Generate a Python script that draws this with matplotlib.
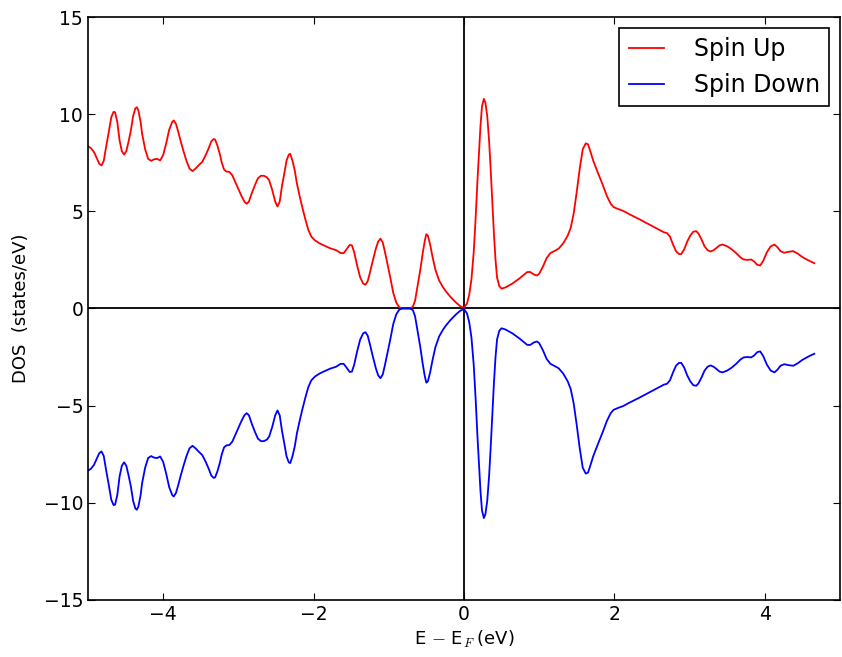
import matplotlib
matplotlib.use("Agg")
import matplotlib.pyplot as plt

energy = [-5.00, -4.96, -4.92, -4.88, -4.85, -4.82, -4.79, -4.76, -4.72, -4.69,
          -4.66, -4.64, -4.61, -4.58, -4.55, -4.52, -4.49, -4.46, -4.43, -4.40,
          -4.37, -4.35, -4.33, -4.30, -4.28, -4.24, -4.20, -4.16, -4.12, -4.08,
          -4.04, -4.00, -3.96, -3.92, -3.88, -3.86, -3.83, -3.80, -3.77, -3.73,
          -3.69, -3.65, -3.61, -3.57, -3.52, -3.48, -3.44, -3.40, -3.36, -3.33,
          -3.31, -3.28, -3.25, -3.22, -3.19, -3.16, -3.12, -3.08, -3.04, -3.00,
          -2.96, -2.92, -2.89, -2.86, -2.82, -2.78, -2.74, -2.70, -2.66, -2.62,
          -2.59, -2.55, -2.51, -2.48, -2.45, -2.42, -2.39, -2.36, -2.33, -2.31,
          -2.28, -2.25, -2.22, -2.18, -2.15, -2.11, -2.07, -2.03, -1.98, -1.92,
          -1.86, -1.78, -1.70, -1.64, -1.60, -1.56, -1.52, -1.49, -1.46, -1.42,
          -1.38, -1.34, -1.31, -1.28, -1.25, -1.21, -1.17, -1.14, -1.11, -1.08,
          -1.05, -1.02, -0.98, -0.94, -0.90, -0.86, -0.82, -0.77, -0.72, -0.68,
          -0.65, -0.62, -0.58, -0.55, -0.52, -0.50, -0.48, -0.45, -0.42, -0.38,
          -0.33, -0.28, -0.24, -0.18, -0.11, -0.05, 0.00, 0.04, 0.07, 0.10,
          0.13, 0.155, 0.18, 0.20, 0.22, 0.24, 0.265, 0.285, 0.31, 0.335,
          0.355, 0.38, 0.40, 0.42, 0.44, 0.47, 0.50, 0.55, 0.64, 0.74,
          0.84, 0.88, 0.93, 0.97, 1.00, 1.05, 1.10, 1.15, 1.20, 1.26,
          1.32, 1.38, 1.42, 1.46, 1.50, 1.54, 1.58, 1.62, 1.65, 1.68,
          1.72, 1.78, 1.84, 1.90, 1.95, 1.99, 2.05, 2.12, 2.20, 2.32,
          2.45, 2.57, 2.66, 2.70, 2.74, 2.78, 2.82, 2.86, 2.89, 2.93,
          2.97, 3.01, 3.05, 3.09, 3.12, 3.16, 3.20, 3.24, 3.28, 3.32,
          3.36, 3.40, 3.44, 3.50, 3.56, 3.62, 3.68, 3.72, 3.77, 3.82,
          3.86, 3.90, 3.94, 3.98, 4.03, 4.08, 4.13, 4.17, 4.21, 4.26,
          4.32, 4.38, 4.44, 4.50, 4.56, 4.61, 4.66]

dos_up = [8.35, 8.25, 8.05, 7.70, 7.45, 7.36, 7.60, 8.30, 9.16, 9.85,
          10.12, 10.10, 9.60, 8.65, 8.10, 7.92, 8.10, 8.60, 9.16, 9.90,
          10.30, 10.36, 10.20, 9.60, 8.99, 8.20, 7.70, 7.60, 7.68, 7.70,
          7.62, 7.90, 8.50, 9.20, 9.60, 9.68, 9.50, 9.10, 8.65, 8.10,
          7.60, 7.20, 7.07, 7.20, 7.40, 7.55, 7.85, 8.20, 8.60, 8.72,
          8.70, 8.40, 8.00, 7.50, 7.15, 7.05, 7.03, 6.85, 6.50, 6.15,
          5.80, 5.50, 5.39, 5.50, 5.95, 6.35, 6.70, 6.83, 6.83, 6.75,
          6.59, 6.10, 5.50, 5.25, 5.50, 6.30, 6.93, 7.60, 7.92, 7.96,
          7.60, 7.10, 6.40, 5.70, 5.21, 4.60, 4.05, 3.70, 3.50, 3.35,
          3.24, 3.10, 3.00, 2.85, 2.85, 3.05, 3.27, 3.25, 2.90, 2.20,
          1.60, 1.28, 1.22, 1.40, 1.85, 2.50, 3.10, 3.45, 3.59, 3.40,
          2.90, 2.35, 1.60, 0.80, 0.30, 0.06, 0.00, 0.00, 0.00, 0.08,
          0.40, 1.10, 2.00, 2.81, 3.50, 3.82, 3.75, 3.30, 2.70, 2.00,
          1.44, 1.10, 0.88, 0.60, 0.32, 0.12, 0.03, 0.25, 0.70, 1.50,
          2.90, 4.62, 6.60, 8.05, 9.40, 10.40, 10.79, 10.60, 9.90, 8.60,
          7.19, 5.30, 3.76, 2.50, 1.60, 1.15, 1.02, 1.08, 1.27, 1.55,
          1.87, 1.88, 1.75, 1.70, 1.78, 2.15, 2.60, 2.85, 2.95, 3.08,
          3.35, 3.75, 4.15, 4.90, 6.00, 7.20, 8.20, 8.50, 8.45, 8.10,
          7.60, 7.00, 6.42, 5.80, 5.40, 5.22, 5.12, 5.02, 4.85, 4.62,
          4.35, 4.10, 3.92, 3.88, 3.70, 3.30, 2.95, 2.80, 2.80, 3.05,
          3.45, 3.75, 3.95, 3.98, 3.85, 3.55, 3.20, 3.00, 2.93, 3.00,
          3.12, 3.25, 3.29, 3.20, 3.05, 2.85, 2.62, 2.52, 2.50, 2.52,
          2.42, 2.25, 2.21, 2.45, 2.90, 3.20, 3.29, 3.15, 2.95, 2.87,
          2.92, 2.95, 2.82, 2.65, 2.52, 2.42, 2.33]

dos_down = [-8.35, -8.25, -8.05, -7.70, -7.45, -7.36, -7.60, -8.30, -9.16, -9.85,
            -10.12, -10.10, -9.60, -8.65, -8.10, -7.92, -8.10, -8.60, -9.16, -9.90,
            -10.30, -10.36, -10.20, -9.60, -8.99, -8.20, -7.70, -7.60, -7.68, -7.70,
            -7.62, -7.90, -8.50, -9.20, -9.60, -9.68, -9.50, -9.10, -8.65, -8.10,
            -7.60, -7.20, -7.07, -7.20, -7.40, -7.55, -7.85, -8.20, -8.60, -8.72,
            -8.70, -8.40, -8.00, -7.50, -7.15, -7.05, -7.03, -6.85, -6.50, -6.15,
            -5.80, -5.50, -5.39, -5.50, -5.95, -6.35, -6.70, -6.83, -6.83, -6.75,
            -6.59, -6.10, -5.50, -5.25, -5.50, -6.30, -6.93, -7.60, -7.92, -7.96,
            -7.60, -7.10, -6.40, -5.70, -5.21, -4.60, -4.05, -3.70, -3.50, -3.35,
            -3.24, -3.10, -3.00, -2.85, -2.85, -3.05, -3.27, -3.25, -2.90, -2.20,
            -1.60, -1.28, -1.22, -1.40, -1.85, -2.50, -3.10, -3.45, -3.59, -3.40,
            -2.90, -2.35, -1.60, -0.80, -0.30, -0.06, -0.00, -0.00, -0.00, -0.08,
            -0.40, -1.10, -2.00, -2.81, -3.50, -3.82, -3.75, -3.30, -2.70, -2.00,
            -1.44, -1.10, -0.88, -0.60, -0.32, -0.12, -0.03, -0.25, -0.70, -1.50,
            -2.90, -4.62, -6.60, -8.05, -9.40, -10.40, -10.79, -10.60, -9.90, -8.60,
            -7.19, -5.30, -3.76, -2.50, -1.60, -1.15, -1.02, -1.08, -1.27, -1.55,
            -1.87, -1.88, -1.75, -1.70, -1.78, -2.15, -2.60, -2.85, -2.95, -3.08,
            -3.35, -3.75, -4.15, -4.90, -6.00, -7.20, -8.20, -8.50, -8.45, -8.10,
            -7.60, -7.00, -6.42, -5.80, -5.40, -5.22, -5.12, -5.02, -4.85, -4.62,
            -4.35, -4.10, -3.92, -3.88, -3.70, -3.30, -2.95, -2.80, -2.80, -3.05,
            -3.45, -3.75, -3.95, -3.98, -3.85, -3.55, -3.20, -3.00, -2.93, -3.00,
            -3.12, -3.25, -3.29, -3.20, -3.05, -2.85, -2.62, -2.52, -2.50, -2.52,
            -2.42, -2.25, -2.21, -2.45, -2.90, -3.20, -3.29, -3.15, -2.95, -2.87,
            -2.92, -2.95, -2.82, -2.65, -2.52, -2.42, -2.33]

x_ticks = [-4, -2, 0, 2, 4]
y_ticks = [-15, -10, -5, 0, 5, 10, 15]

plt.rcParams['mathtext.fontset'] = 'cm'
plt.rcParams['xtick.direction'] = 'in'
plt.rcParams['ytick.direction'] = 'in'
plt.rcParams['xtick.top'] = True
plt.rcParams['ytick.right'] = True

fig = plt.figure(figsize=(8.42, 6.57), dpi=100)
ax = fig.add_axes([0.1045, 0.087, 0.893, 0.887])

ax.plot(energy, dos_up, color='#ff0000', lw=1.3, label='Spin Up',
        solid_joinstyle='round')
ax.plot(energy, dos_down, color='#0000ff', lw=1.3, label='Spin Down',
        solid_joinstyle='round')
ax.axhline(0, color='black', lw=1.3, zorder=1)
ax.axvline(0, color='black', lw=1.3, zorder=1)

ax.set_xlim(-5, 5)
ax.set_ylim(-15, 15)
ax.set_xticks(x_ticks)
ax.set_yticks(y_ticks)
ax.tick_params(labelsize=13.5, length=5, width=0.8)
for s in ax.spines.values():
    s.set_linewidth(1.2)

ax.set_xlabel(r'E $-$ E$_F\;$(eV)', fontsize=13)
ax.set_ylabel('DOS  (states/eV)', fontsize=13, labelpad=10)

leg = ax.legend(loc='upper right', fontsize=17, fancybox=False, framealpha=1,
                edgecolor='black', borderaxespad=0.45, handlelength=1.5,
                handletextpad=1.25, labelspacing=0.5)
leg.get_frame().set_linewidth(1.2)

fig.savefig('out.png', dpi=100)
